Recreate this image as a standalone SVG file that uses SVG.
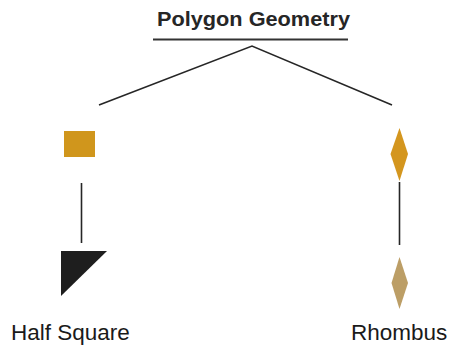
<svg xmlns="http://www.w3.org/2000/svg" width="452" height="345" viewBox="0 0 452 345">
<style>
.edge{stroke:#262626;stroke-width:1.6;fill:none}
.title{font-family:"Liberation Sans",Arial,sans-serif;font-weight:bold;font-size:19.5px;fill:#262626}
.label{font-family:"Liberation Sans",Arial,sans-serif;font-size:22.5px;fill:#1a1a1a}
</style>
<rect width="452" height="345" fill="#ffffff"/>
<g id="title">
<text class="title" x="157" y="25.5" textLength="193" lengthAdjust="spacingAndGlyphs">Polygon Geometry</text>
<line x1="153" y1="39.5" x2="348" y2="39.5" stroke="#333" stroke-width="1.8"/>
</g>
<g id="connectors">
<polyline class="edge" points="99,105 252,46 392,105"/>
<line class="edge" x1="81.5" y1="183" x2="81.5" y2="243"/>
<line class="edge" x1="399.5" y1="182" x2="399.5" y2="245"/>
</g>
<g id="half-square-top">
<rect x="64" y="131" width="31" height="26" fill="#D0961C"/>
</g>
<g id="half-square">
<polygon points="61,251 107,251 61,296" fill="#1e1e1e"/>
<text class="label" x="11" y="340">Half Square</text>
</g>
<g id="rhombus-top">
<polygon points="399.5,128 408,154 399.5,181 390.5,154" fill="#D4961E"/>
</g>
<g id="rhombus">
<polygon points="399.5,257 408,283 399.5,309 391.5,283" fill="#BC9E66"/>
<text class="label" x="351" y="340">Rhombus</text>
</g>
</svg>
